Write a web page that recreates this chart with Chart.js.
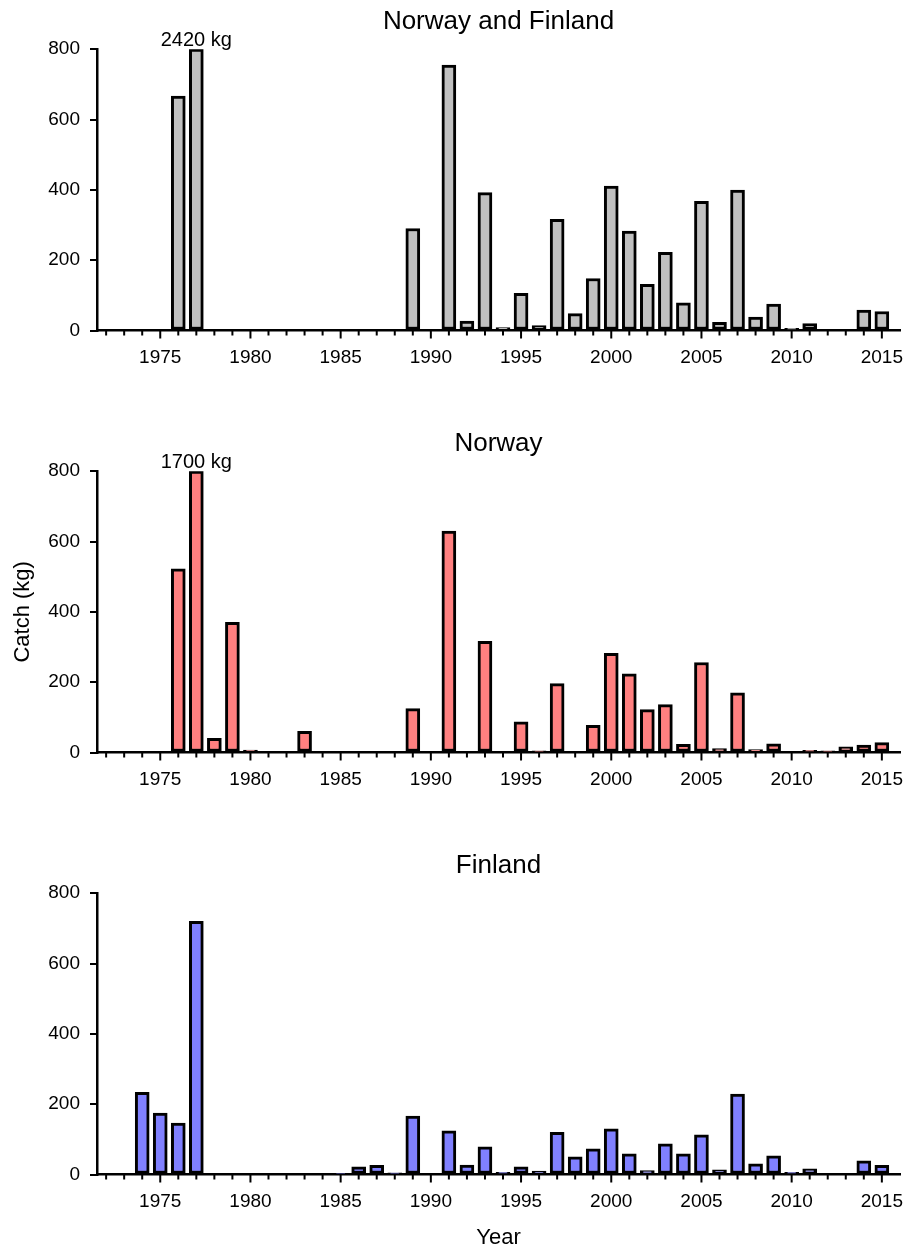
<!DOCTYPE html>
<html>
<head>
<meta charset="utf-8">
<title>Catch Norway and Finland</title>
<script src="https://cdn.jsdelivr.net/npm/chart.js"></script>
<style>
    html, body { margin: 0; padding: 0; background: #fff; }
    .panel { position: absolute; left: 0; width: 915px; }
</style>
</head>
<body>
<div class="panel" style="top:0px;height:422px"><canvas id="chartBoth"></canvas></div>
<div class="panel" style="top:422px;height:422px"><canvas id="chartNorway"></canvas></div>
<div class="panel" style="top:844px;height:407px"><canvas id="chartFinland"></canvas></div>
<script>
/*global Chart, document*/

// ------------------------------------------------------- //
// Data (catch in kg per year)
// ------------------------------------------------------ //
var years = [1972, 1973, 1974, 1975, 1976, 1977, 1978, 1979, 1980, 1981,
    1982, 1983, 1984, 1985, 1986, 1987, 1988, 1989, 1990, 1991,
    1992, 1993, 1994, 1995, 1996, 1997, 1998, 1999, 2000, 2001,
    2002, 2003, 2004, 2005, 2006, 2007, 2008, 2009, 2010, 2011,
    2012, 2013, 2014, 2015];

var catchBoth = [0, 0, 0, 0, 667, 2420, 0, 0, 0, 0,
    0, 0, 0, 0, 0, 0, 0, 290, 0, 755,
    27, 392, 8, 106, 14, 316, 48, 148, 411, 283,
    131, 222, 79, 367, 23, 399, 38, 75, 6, 20,
    0, 0, 58, 54];

var catchNorway = [0, 0, 0, 0, 522, 1700, 40, 370, 7, 0,
    0, 60, 0, 0, 0, 0, 0, 125, 0, 630,
    0, 316, 0, 87, 5, 196, 0, 77, 282, 224,
    122, 136, 23, 256, 11, 170, 8, 25, 0, 6,
    5, 16, 21, 28];

var catchFinland = [0, 0, 234, 175, 146, 720, 0, 0, 0, 0,
    0, 0, 0, 3, 22, 26, 5, 166, 0, 124,
    27, 79, 6, 22, 10, 120, 50, 73, 130, 59,
    11, 87, 59, 113, 13, 229, 30, 53, 6, 16,
    0, 0, 39, 26];

var yTicks = [0, 200, 400, 600, 800];

var FONT = '"Liberation Sans", Arial, sans-serif';
var yMax = yTicks[yTicks.length - 1];

// bars over the top of the axis get their real value written above them
var breakLabels = {
    id: 'breakLabels',
    afterDatasetsDraw: function (chart, args, opts) {
        var meta = chart.getDatasetMeta(0);
        var ctx = chart.ctx;
        (opts.raw || []).forEach(function (v, i) {
            if (v > chart.scales.y.max) {
                var bar = meta.data[i];
                ctx.save();
                ctx.font = '20px ' + FONT;
                ctx.fillStyle = '#000';
                ctx.textAlign = 'center';
                ctx.textBaseline = 'alphabetic';
                ctx.fillText(v + ' kg', bar.x, chart.chartArea.top - 3);
                ctx.restore();
            }
        });
    }
};

// year tick marks, longer every 5 years
var yearTicks = {
    id: 'yearTicks',
    afterDraw: function (chart) {
        var x = chart.scales.x;
        var ctx = chart.ctx;
        ctx.save();
        ctx.strokeStyle = '#000';
        ctx.lineWidth = 2;
        for (var yr = Math.ceil(x.min); yr <= Math.floor(x.max); yr++) {
            var px = x.getPixelForValue(yr);
            ctx.beginPath();
            ctx.moveTo(px, x.top);
            ctx.lineTo(px, x.top + (yr % 5 === 0 ? 8 : 5));
            ctx.stroke();
        }
        ctx.restore();
    }
};

function makePanel(id, title, values, color, canvasHeight, yTitle, xTitle) {
    var xHeight = canvasHeight - 330.5;
    return new Chart(document.getElementById(id), {
        type: 'bar',
        plugins: [breakLabels, yearTicks],
        data: {
            labels: years,
            datasets: [{
                data: values.map(function (v) { return Math.min(v, yMax); }),
                backgroundColor: color,
                borderColor: '#000',
                borderWidth: 3,
                borderSkipped: false,
                barThickness: 14
            }]
        },
        options: {
            responsive: true,
            maintainAspectRatio: false,
            animation: false,
            layout: { padding: { left: 0, right: 15, top: 0, bottom: 0 } },
            plugins: {
                legend: { display: false },
                tooltip: { enabled: false },
                breakLabels: { raw: values },
                title: {
                    display: true,
                    text: title,
                    fullSize: false,
                    color: '#000',
                    font: { family: FONT, size: 26, weight: 'normal' },
                    padding: { top: 6, bottom: 12 }
                }
            },
            scales: {
                x: {
                    type: 'linear',
                    min: 1972,
                    max: 2015.5,
                    grid: { display: false, drawTicks: false },
                    border: { display: true, color: '#000', width: 2.5 },
                    ticks: {
                        stepSize: 1,
                        autoSkip: false,
                        maxRotation: 0,
                        includeBounds: false,
                        padding: 16,
                        color: '#000',
                        font: { family: FONT, size: 19 },
                        callback: function (v) { return v % 5 === 0 ? String(v) : ''; }
                    },
                    title: {
                        display: !!xTitle,
                        text: xTitle || '',
                        color: '#000',
                        font: { family: FONT, size: 22 },
                        padding: { top: 0, bottom: 0 }
                    },
                    afterFit: function (scale) {
                        scale.height = xHeight;
                        scale.paddingLeft = 0;
                        scale.paddingRight = 0;
                    }
                },
                y: {
                    min: 0,
                    max: yMax,
                    grid: {
                        display: true,
                        drawOnChartArea: false,
                        drawTicks: true,
                        tickLength: 7,
                        color: '#000',
                        lineWidth: 2
                    },
                    border: { display: true, color: '#000', width: 2.5 },
                    afterBuildTicks: function (scale) {
                        scale.ticks = yTicks.map(function (v) { return { value: v }; });
                    },
                    ticks: {
                        padding: 10,
                        color: '#000',
                        font: { family: FONT, size: 19 }
                    },
                    title: {
                        display: !!yTitle,
                        text: yTitle || '',
                        color: '#000',
                        font: { family: FONT, size: 22 },
                        padding: { top: 10, bottom: 0 }
                    },
                    afterFit: function (scale) {
                        scale.width = 97;
                    }
                }
            }
        }
    });
}

// ------------------------------------------------------- //
// Panels
// ------------------------------------------------------ //
makePanel('chartBoth', 'Norway and Finland', catchBoth, '#C0C0C0', 422, null, null);
makePanel('chartNorway', 'Norway', catchNorway, '#FF8080', 422, 'Catch (kg)', null);
makePanel('chartFinland', 'Finland', catchFinland, '#8080FF', 407, null, 'Year');
</script>
</body>
</html>
